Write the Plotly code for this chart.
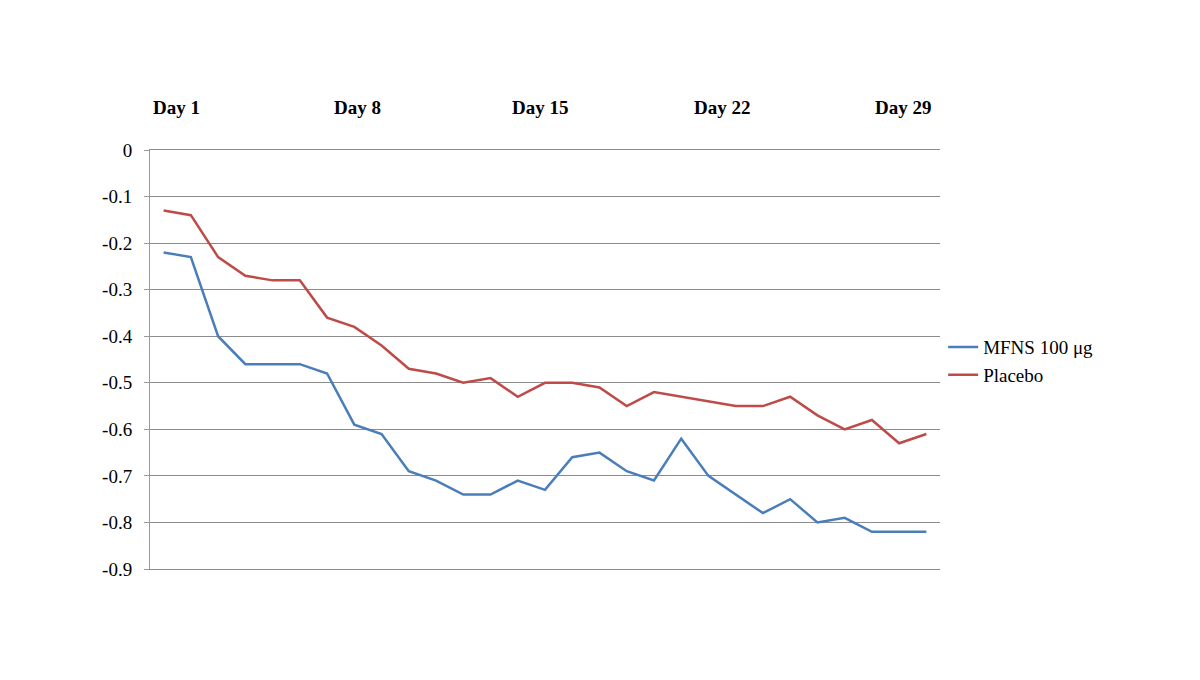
import plotly.graph_objects as go

days = list(range(1, 30))
mfns = [-0.22, -0.23, -0.40, -0.46, -0.46, -0.46, -0.48, -0.59, -0.61, -0.69,
        -0.71, -0.74, -0.74, -0.71, -0.73, -0.66, -0.65, -0.69, -0.71, -0.62,
        -0.70, -0.74, -0.78, -0.75, -0.80, -0.79, -0.82, -0.82, -0.82]
placebo = [-0.13, -0.14, -0.23, -0.27, -0.28, -0.28, -0.36, -0.38, -0.42, -0.47,
           -0.48, -0.50, -0.49, -0.53, -0.50, -0.50, -0.51, -0.55, -0.52, -0.53,
           -0.54, -0.55, -0.55, -0.53, -0.57, -0.60, -0.58, -0.63, -0.61]
day_labels = ["Day 1", "Day 8", "Day 15", "Day 22", "Day 29"]
label_pos = [0.033, 0.263, 0.494, 0.724, 0.953]
y_ticks = [0, -0.1, -0.2, -0.3, -0.4, -0.5, -0.6, -0.7, -0.8, -0.9]
y_text = ["0", "-0.1", "-0.2", "-0.3", "-0.4", "-0.5", "-0.6", "-0.7", "-0.8", "-0.9"]

SERIF = "Liberation Serif, Times New Roman, serif"

fig = go.Figure()
fig.add_trace(go.Scatter(x=days, y=mfns, mode="lines", name="MFNS 100 μg",
                         line=dict(color="#4a7ebb", width=2.5)))
fig.add_trace(go.Scatter(x=days, y=placebo, mode="lines", name="Placebo",
                         line=dict(color="#be4b48", width=2.5)))

for txt, px in zip(day_labels, label_pos):
    fig.add_annotation(text="<b>" + txt + "</b>", x=px, y=1.0 + (150 - 108) / 419.0,
                       xref="paper", yref="paper", xanchor="center", yanchor="middle",
                       showarrow=False, font=dict(family=SERIF, size=19, color="black"))

fig.update_layout(
    width=1200, height=680,
    margin=dict(l=142, r=268, t=142, b=119, autoexpand=False),
    paper_bgcolor="white", plot_bgcolor="white",
    font=dict(family=SERIF, size=19, color="black"),
    showlegend=True,
    legend=dict(x=1.004, y=0.496, xanchor="left", yanchor="middle",
                font=dict(family=SERIF, size=19, color="black"),
                bgcolor="rgba(0,0,0,0)", tracegroupgap=0),
    xaxis=dict(range=[0.5, 29.5], showticklabels=False, showgrid=False,
               zeroline=False, showline=True, mirror=True, linecolor="#8c8c8c",
               linewidth=1, ticks=""),
    yaxis=dict(range=[-0.9, 0], tickvals=y_ticks, ticktext=y_text,
               showgrid=True, gridcolor="#8c8c8c", gridwidth=1,
               zeroline=False, showline=True, linecolor="#9a9a9a", linewidth=1,
               ticks="outside", ticklen=5, tickcolor="#9a9a9a",
               ticklabelstandoff=8),
)
fig.write_html("out.html")
